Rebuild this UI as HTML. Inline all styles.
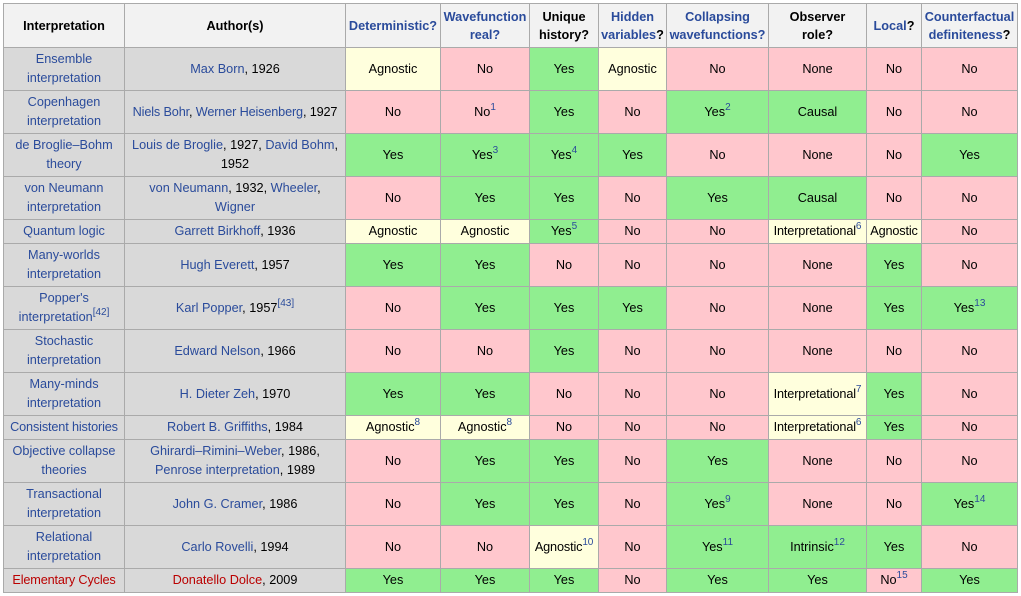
<!DOCTYPE html>
<html><head><meta charset="utf-8"><style>
body{margin:0;background:#fff;width:1021px;height:596px;overflow:hidden;font-family:"Liberation Sans",Arial,sans-serif;font-size:12.7px;color:#000}
table{position:absolute;left:3px;top:3px;border-collapse:collapse;table-layout:fixed}
td,th{border:1px solid #aaa;text-align:center;vertical-align:middle;padding:0 1px;line-height:19px;overflow:hidden}
th{background:#f2f2f2;font-weight:bold;line-height:18px}
td.g{background:#d9d9d9;color:#2a4b9b}
td.g span.k{color:#000}
td.g.r,td.g span.r{color:#ba0000}
td.y{background:#90ee90}td.n{background:#ffc7cd}td.a{background:#ffffdd}
.b{color:#2a4b9b}
.nw{white-space:nowrap;letter-spacing:-0.15px}
sup{font-size:10px;line-height:0;color:#2a4b9b;vertical-align:6px}
</style></head><body>
<table>
<colgroup><col style="width:121px"><col style="width:221px"><col style="width:95px"><col style="width:89px"><col style="width:69px"><col style="width:68px"><col style="width:102px"><col style="width:98px"><col style="width:55px"><col style="width:96px"></colgroup>
<tr style="height:44px"><th>Interpretation</th><th>Author(s)</th><th class="b">Deterministic?</th><th class="b">Wavefunction<br>real?</th><th>Unique<br>history?</th><th><span class="b">Hidden<br>variables</span>?</th><th class="b">Collapsing<br>wavefunctions?</th><th>Observer<br>role?</th><th><span class="b">Local</span>?</th><th><span class="b">Counterfactual<br>definiteness</span>?</th></tr>
<tr style="height:43px"><td class="g">Ensemble interpretation</td><td class="g">Max Born<span class="k">, 1926</span></td><td class="a">Agnostic</td><td class="n">No</td><td class="y">Yes</td><td class="a">Agnostic</td><td class="n">No</td><td class="n">None</td><td class="n">No</td><td class="n">No</td></tr>
<tr style="height:43px"><td class="g">Copenhagen interpretation</td><td class="g nw">Niels Bohr<span class="k">, </span>Werner Heisenberg<span class="k">, 1927</span></td><td class="n">No</td><td class="n">No<sup>1</sup></td><td class="y">Yes</td><td class="n">No</td><td class="y">Yes<sup>2</sup></td><td class="y">Causal</td><td class="n">No</td><td class="n">No</td></tr>
<tr style="height:43px"><td class="g">de Broglie–Bohm theory</td><td class="g">Louis de Broglie<span class="k">, 1927, </span>David Bohm<span class="k">,<br>1952</span></td><td class="y">Yes</td><td class="y">Yes<sup>3</sup></td><td class="y">Yes<sup>4</sup></td><td class="y">Yes</td><td class="n">No</td><td class="n">None</td><td class="n">No</td><td class="y">Yes</td></tr>
<tr style="height:43px"><td class="g">von Neumann interpretation</td><td class="g">von Neumann<span class="k">, 1932, </span>Wheeler<span class="k">,</span><br>Wigner</td><td class="n">No</td><td class="y">Yes</td><td class="y">Yes</td><td class="n">No</td><td class="y">Yes</td><td class="y">Causal</td><td class="n">No</td><td class="n">No</td></tr>
<tr style="height:24px"><td class="g">Quantum logic</td><td class="g">Garrett Birkhoff<span class="k">, 1936</span></td><td class="a">Agnostic</td><td class="a">Agnostic</td><td class="y">Yes<sup>5</sup></td><td class="n">No</td><td class="n">No</td><td class="a nw">Interpretational<sup>6</sup></td><td class="a nw">Agnostic</td><td class="n">No</td></tr>
<tr style="height:43px"><td class="g">Many-worlds interpretation</td><td class="g">Hugh Everett<span class="k">, 1957</span></td><td class="y">Yes</td><td class="y">Yes</td><td class="n">No</td><td class="n">No</td><td class="n">No</td><td class="n">None</td><td class="y">Yes</td><td class="n">No</td></tr>
<tr style="height:43px"><td class="g">Popper's interpretation<sup>[42]</sup></td><td class="g">Karl Popper<span class="k">, 1957</span><sup>[43]</sup></td><td class="n">No</td><td class="y">Yes</td><td class="y">Yes</td><td class="y">Yes</td><td class="n">No</td><td class="n">None</td><td class="y">Yes</td><td class="y">Yes<sup>13</sup></td></tr>
<tr style="height:43px"><td class="g">Stochastic interpretation</td><td class="g">Edward Nelson<span class="k">, 1966</span></td><td class="n">No</td><td class="n">No</td><td class="y">Yes</td><td class="n">No</td><td class="n">No</td><td class="n">None</td><td class="n">No</td><td class="n">No</td></tr>
<tr style="height:43px"><td class="g">Many-minds interpretation</td><td class="g">H. Dieter Zeh<span class="k">, 1970</span></td><td class="y">Yes</td><td class="y">Yes</td><td class="n">No</td><td class="n">No</td><td class="n">No</td><td class="a nw">Interpretational<sup>7</sup></td><td class="y">Yes</td><td class="n">No</td></tr>
<tr style="height:24px"><td class="g nw">Consistent histories</td><td class="g">Robert B. Griffiths<span class="k">, 1984</span></td><td class="a">Agnostic<sup>8</sup></td><td class="a">Agnostic<sup>8</sup></td><td class="n">No</td><td class="n">No</td><td class="n">No</td><td class="a nw">Interpretational<sup>6</sup></td><td class="y">Yes</td><td class="n">No</td></tr>
<tr style="height:43px"><td class="g">Objective collapse theories</td><td class="g">Ghirardi–Rimini–Weber<span class="k">, 1986,</span><br>Penrose interpretation<span class="k">, 1989</span></td><td class="n">No</td><td class="y">Yes</td><td class="y">Yes</td><td class="n">No</td><td class="y">Yes</td><td class="n">None</td><td class="n">No</td><td class="n">No</td></tr>
<tr style="height:43px"><td class="g">Transactional interpretation</td><td class="g">John G. Cramer<span class="k">, 1986</span></td><td class="n">No</td><td class="y">Yes</td><td class="y">Yes</td><td class="n">No</td><td class="y">Yes<sup>9</sup></td><td class="n">None</td><td class="n">No</td><td class="y">Yes<sup>14</sup></td></tr>
<tr style="height:43px"><td class="g">Relational interpretation</td><td class="g">Carlo Rovelli<span class="k">, 1994</span></td><td class="n">No</td><td class="n">No</td><td class="a nw">Agnostic<sup>10</sup></td><td class="n">No</td><td class="y">Yes<sup>11</sup></td><td class="y">Intrinsic<sup>12</sup></td><td class="y">Yes</td><td class="n">No</td></tr>
<tr style="height:24px"><td class="g r nw">Elementary Cycles</td><td class="g"><span class="r">Donatello Dolce</span><span class="k">, 2009</span></td><td class="y">Yes</td><td class="y">Yes</td><td class="y">Yes</td><td class="n">No</td><td class="y">Yes</td><td class="y">Yes</td><td class="n">No<sup>15</sup></td><td class="y">Yes</td></tr>
</table>
</body></html>
